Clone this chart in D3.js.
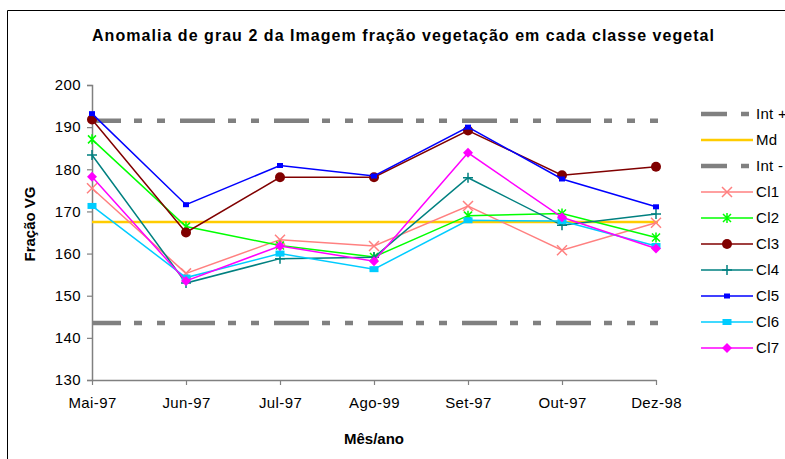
<!DOCTYPE html>
<html><head><meta charset="utf-8">
<script src="https://cdn.jsdelivr.net/npm/d3@7"></script>
<style>
body{margin:0;background:#fff;}
svg{display:block;font-family:"Liberation Sans",Arial,sans-serif;}
</style></head>
<body><svg id="c" width="785" height="459"></svg>
<script>
const months = ["Mai-97","Jun-97","Jul-97","Ago-99","Set-97","Out-97","Dez-98"];
const yTicks = [130,140,150,160,170,180,190,200];
const md = 167.5;
const intPlus = 191.5;
const intMinus = 143.5;
const cl1 = [175.5,155.3,163.3,161.8,171.3,160.8,167.3];
const cl2 = [187.1,166.4,161.9,159.2,169.0,169.5,163.8];
const cl3 = [191.8,165.0,178.1,178.1,189.2,178.6,180.6];
const cl4 = [183.4,153.0,158.8,159.1,178.0,166.7,169.4];
const cl5 = [193.2,171.6,180.9,178.4,190.0,177.7,171.1];
const cl6 = [171.3,154.3,160.0,156.3,167.9,167.7,161.8];
const cl7 = [178.2,153.5,161.8,158.2,183.9,168.6,161.2];
const seriesNames = ["Cl1","Cl2","Cl3","Cl4","Cl5","Cl6","Cl7"];
const seriesVals = [cl1,cl2,cl3,cl4,cl5,cl6,cl7];
const seriesColors = ["#FF8080","#00FF00","#800000","#008080","#0000FF","#00CCFF","#FF00FF"];
const seriesMarkers = ["x","star","circle","plus","smallrect","rect","diamond"];

const svg = d3.select("#c");
const x = d3.scalePoint().domain(months).range([92,656]);
const y = d3.scaleLinear().domain([130,200]).range([380,85]);

// frame
svg.append("path").attr("d","M7.5,459 V10.5 H785").attr("fill","none").attr("stroke","#000").attr("stroke-width",1);

// title
svg.append("text").attr("x",92).attr("y",41)
  .attr("font-weight","bold").attr("font-size",16)
  .attr("textLength",622).attr("lengthAdjust","spacing")
  .text("Anomalia de grau 2 da Imagem fração vegetação em cada classe vegetal");

// axes
const yAxis = d3.axisLeft(y).tickValues(yTicks).tickSize(5).tickPadding(6).tickFormat(d3.format("d"));
const gy = svg.append("g").attr("transform","translate(92,0)").call(yAxis);
gy.select(".domain").attr("stroke","#808080").attr("stroke-width",1.5);
gy.selectAll(".tick line").attr("stroke","#808080").attr("stroke-width",1.2);
gy.selectAll("text").attr("font-size",15).attr("fill","#000").attr("font-family","Liberation Sans, Arial")
  .attr("letter-spacing",0.4);

const xAxis = d3.axisBottom(x).tickSize(5).tickPadding(12).tickSizeOuter(0);
const gx = svg.append("g").attr("transform","translate(0,380)").call(xAxis);
gx.select(".domain").attr("stroke","#808080").attr("stroke-width",1.5);
gx.selectAll(".tick line").attr("stroke","#808080").attr("stroke-width",1.2);
gx.selectAll("text").attr("font-size",15).attr("fill","#000").attr("font-family","Liberation Sans, Arial")
  .attr("letter-spacing",0.4);

// axis titles
svg.append("text").attr("transform","translate(35,224) rotate(-90)").attr("text-anchor","middle")
  .attr("font-weight","bold").attr("font-size",15).text("Fração VG");
svg.append("text").attr("x",374).attr("y",444).attr("text-anchor","middle")
  .attr("font-weight","bold").attr("font-size",15).text("Mês/ano");

// reference lines
const dash = "35,13,8,15,8,15";
function hline(v, color, w, dashed){
  const l = svg.append("line").attr("x1",x(months[0])).attr("x2",x(months[months.length-1])+2)
    .attr("y1",y(v)).attr("y2",y(v)).attr("stroke",color).attr("stroke-width",w);
  if(dashed) l.attr("stroke-dasharray",dash).attr("stroke-dashoffset",6);
}
hline(intPlus,"#808080",4.5,true);
hline(md,"#FFCC00",2.5,false);
hline(intMinus,"#808080",4.5,true);

// markers
function drawMarker(g, type, color, cx, cy){
  switch(type){
    case "x":
      g.append("path").attr("d",`M${cx-5},${cy-5}L${cx+5},${cy+5}M${cx-5},${cy+5}L${cx+5},${cy-5}`)
        .attr("stroke",color).attr("stroke-width",1.5).attr("fill","none"); break;
    case "star":
      g.append("path").attr("d",`M${cx-4},${cy-4}L${cx+4},${cy+4}M${cx-4},${cy+4}L${cx+4},${cy-4}M${cx},${cy-5}L${cx},${cy+5}`)
        .attr("stroke",color).attr("stroke-width",1.5).attr("fill","none"); break;
    case "circle":
      g.append("circle").attr("cx",cx).attr("cy",cy).attr("r",5).attr("fill",color); break;
    case "plus":
      g.append("path").attr("d",`M${cx-5},${cy}L${cx+5},${cy}M${cx},${cy-5}L${cx},${cy+5}`)
        .attr("stroke",color).attr("stroke-width",1.5).attr("fill","none"); break;
    case "smallrect":
      g.append("rect").attr("x",cx-3).attr("y",cy-2.5).attr("width",6).attr("height",5).attr("fill",color); break;
    case "rect":
      g.append("rect").attr("x",cx-4.5).attr("y",cy-3).attr("width",9).attr("height",6).attr("fill",color); break;
    case "diamond":
      g.append("path").attr("d",`M${cx},${cy-5}L${cx+5},${cy}L${cx},${cy+5}L${cx-5},${cy}Z`).attr("fill",color); break;
  }
}

const line = d3.line().x((d,i)=>x(months[i])).y(d=>y(d));
seriesVals.forEach((vals,k)=>{
  const g = svg.append("g");
  g.append("path").datum(vals).attr("d",line).attr("fill","none")
    .attr("stroke",seriesColors[k]).attr("stroke-width",1.5);
  vals.forEach((v,i)=>drawMarker(g,seriesMarkers[k],seriesColors[k],x(months[i]),y(v)));
});

// legend
const legItems = [
  {name:"Int +", color:"#808080", type:"dash"},
  {name:"Md", color:"#FFCC00", type:"solid"},
  {name:"Int -", color:"#808080", type:"dash"},
].concat(seriesNames.map((n,k)=>({name:n,color:seriesColors[k],type:"series",marker:seriesMarkers[k]})));
const legY = d3.scaleLinear().domain([0,legItems.length-1]).range([114,348]);
legItems.forEach((it,i)=>{
  const yy = legY(i);
  const g = svg.append("g");
  if(it.type==="dash"){
    g.append("line").attr("x1",701).attr("x2",753).attr("y1",yy).attr("y2",yy)
      .attr("stroke",it.color).attr("stroke-width",4.5).attr("stroke-dasharray","26,14,8,10");
  } else if(it.type==="solid"){
    g.append("line").attr("x1",701).attr("x2",753).attr("y1",yy).attr("y2",yy)
      .attr("stroke",it.color).attr("stroke-width",2.5);
  } else {
    g.append("line").attr("x1",701).attr("x2",753).attr("y1",yy).attr("y2",yy)
      .attr("stroke",it.color).attr("stroke-width",1.5);
    drawMarker(g,it.marker,it.color,727,yy);
  }
  g.append("text").attr("x",756).attr("y",yy+5).attr("font-size",15).attr("letter-spacing",0.3).text(it.name);
});
</script></body></html>
